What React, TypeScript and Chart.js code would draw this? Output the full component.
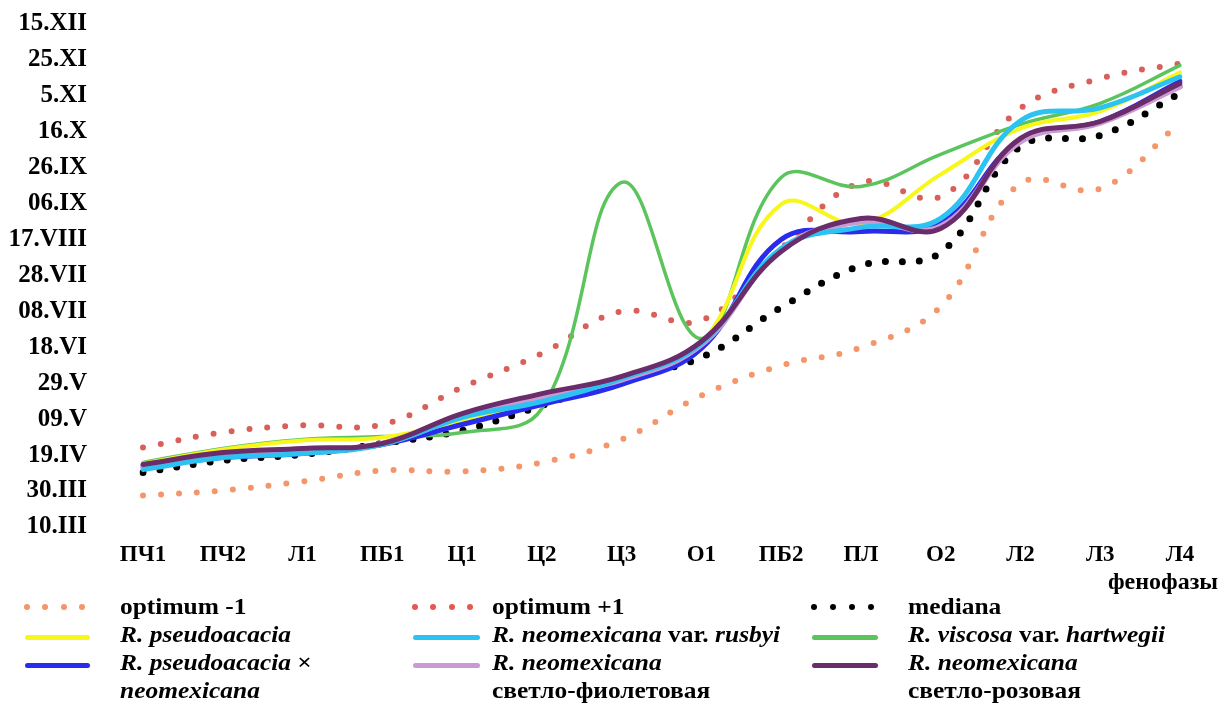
import React, { useEffect, useRef } from 'react';
import { Chart, registerables } from 'chart.js';
Chart.register(...registerables);

// Phenological phases (x categories)
const phases = ['ПЧ1', 'ПЧ2', 'Л1', 'ПБ1', 'Ц1', 'Ц2', 'Ц3', 'О1', 'ПБ2', 'ПЛ', 'О2', 'Л2', 'Л3', 'Л4'];
// Date tick labels, every 20 days starting at 10.III (value 0)
const dateTicks = ['10.III', '30.III', '19.IV', '09.V', '29.V', '18.VI', '08.VII', '28.VII', '17.VIII', '06.IX', '26.IX', '16.X', '5.XI', '25.XI', '15.XII'];

// Series values: days after 10.III
const optimumMinus1 = [17.5, 20.3, 25.3, 31.4, 30.9, 35.9, 48.7, 73.1, 89.8, 99.8, 122.6, 191.0, 188.2, 224.9];
const optimumPlus1 = [44.2, 52.6, 56.5, 57.0, 77.6, 96.5, 119.9, 114.9, 154.9, 191.6, 183.8, 232.8, 249.4, 257.8];
const mediana = [30.3, 37.0, 40.3, 46.4, 53.7, 67.6, 82.6, 94.3, 122.1, 145.4, 152.7, 211.6, 217.7, 241.1];
const pseudoacacia = [35.3, 43.1, 48.1, 49.8, 58.7, 68.7, 79.8, 102.1, 179.4, 168.8, 196.1, 221.7, 231.2, 252.9];
const rusbyi = [32.0, 38.6, 40.9, 45.9, 60.9, 69.8, 82.6, 102.1, 154.9, 166.6, 171.6, 225.9, 233.1, 250.4];
const hartwegii = [35.9, 43.7, 48.7, 50.3, 52.5, 65.9, 191.6, 104.8, 194.4, 189.4, 207.2, 223.9, 235.6, 256.7];
const hybrid = [33.0, 38.6, 40.9, 45.9, 57.0, 68.1, 79.3, 99.3, 159.9, 164.3, 168.8, 215.5, 225.5, 247.8];
const lightViolet = [34.2, 40.3, 42.0, 46.4, 61.5, 72.6, 82.0, 101.5, 154.3, 169.9, 167.1, 214.4, 224.9, 245.0];
const lightPink = [34.8, 41.4, 43.7, 46.4, 63.1, 74.2, 83.7, 103.2, 153.2, 171.6, 166.0, 216.1, 225.5, 246.7];

const C = {
  orange: '#F5956A',
  red: '#D9605A',
  black: '#000000',
  yellow: '#F7F71C',
  cyan: '#2CC2F2',
  green: '#5CC45C',
  blue: '#2B2BEE',
  lviolet: '#C99BD2',
  dpurple: '#6B2C6B',
};

const FONT = '"Liberation Serif", "Times New Roman", serif';

const xTitlePlugin = {
  id: 'xTitle',
  afterDraw(chart: any) {
    const ctx = chart.ctx;
    ctx.save();
    ctx.font = 'bold 24px ' + FONT;
    ctx.fillStyle = '#000';
    ctx.textAlign = 'center';
    ctx.textBaseline = 'middle';
    ctx.fillText('фенофазы', chart.chartArea.right - 17, 583);
    ctx.restore();
  },
};

function dotted(label: string, data: number[], color: string, width: number, gap: number) {
  return {
    label, data, borderColor: color, backgroundColor: color, borderWidth: width,
    borderDash: [0, gap], borderCapStyle: 'round', borderJoinStyle: 'round',
    pointRadius: 0, tension: 0.4, order: 10, fill: false,
  };
}
function solid(label: string, data: number[], color: string, width: number, order: number) {
  return {
    label, data, borderColor: color, backgroundColor: color, borderWidth: width,
    borderCapStyle: 'round', borderJoinStyle: 'round',
    pointRadius: 0, tension: 0.4, order, fill: false,
  };
}

type Entry = { kind: 'dots' | 'line' | 'none'; color?: string; text: React.ReactNode };
const legendCols: { markerX: number; markerW: number; dotGap: number; textX: number; entries: Entry[] }[] = [
  {
    markerX: 25, markerW: 65, dotGap: 18.3, textX: 120,
    entries: [
      { kind: 'dots', color: C.orange, text: <>optimum -1</> },
      { kind: 'line', color: C.yellow, text: <i>R. pseudoacacia</i> },
      { kind: 'line', color: C.blue, text: <><i>R. pseudoacacia</i> ×</> },
      { kind: 'none', text: <i>neomexicana</i> },
    ],
  },
  {
    markerX: 413, markerW: 67, dotGap: 18.3, textX: 492,
    entries: [
      { kind: 'dots', color: '#E8564F', text: <>optimum +1</> },
      { kind: 'line', color: C.cyan, text: <><i>R. neomexicana</i> var. <i>rusbyi</i></> },
      { kind: 'line', color: C.lviolet, text: <i>R. neomexicana</i> },
      { kind: 'none', text: <>светло-фиолетовая</> },
    ],
  },
  {
    markerX: 812, markerW: 66, dotGap: 19, textX: 908,
    entries: [
      { kind: 'dots', color: C.black, text: <>mediana</> },
      { kind: 'line', color: C.green, text: <><i>R. viscosa</i> var. <i>hartwegii</i></> },
      { kind: 'line', color: C.dpurple, text: <i>R. neomexicana</i> },
      { kind: 'none', text: <>светло-розовая</> },
    ],
  },
];
const rowY = [607, 635, 663, 691];

function Legend() {
  const items: React.ReactNode[] = [];
  legendCols.forEach((col, ci) => {
    col.entries.forEach((e, ri) => {
      const cy = rowY[ri];
      if (e.kind === 'line') {
        items.push(<div key={`m${ci}-${ri}`} style={{ position: 'absolute', left: col.markerX, top: cy + 2 - 2.5, width: col.markerW, height: 5, borderRadius: 3, background: e.color }} />);
      } else if (e.kind === 'dots') {
        for (let k = 0; k < 4; k++) {
          items.push(<div key={`d${ci}-${ri}-${k}`} style={{ position: 'absolute', left: col.markerX - 1 + k * col.dotGap, top: cy - 3, width: 6, height: 6, borderRadius: 3, background: e.color }} />);
        }
      }
      items.push(
        <div key={`t${ci}-${ri}`} style={{ position: 'absolute', left: col.textX, top: cy - 14, height: 28, lineHeight: '28px', whiteSpace: 'nowrap', font: 'bold 24px ' + FONT, color: '#000', transform: 'scaleX(1.06)', transformOrigin: 'left center' }}>
          {e.text}
        </div>
      );
    });
  });
  return <>{items}</>;
}

export default function App() {
  const ref = useRef<HTMLCanvasElement | null>(null);
  useEffect(() => {
    if (!ref.current) return;
    const chart = new Chart(ref.current, {
      type: 'line',
      data: {
        labels: phases,
        datasets: [
          dotted('optimum -1', optimumMinus1, C.orange, 6, 18) as any,
          dotted('optimum +1', optimumPlus1, C.red, 6, 18) as any,
          dotted('mediana', mediana, C.black, 7, 17) as any,
          solid('R. pseudoacacia', pseudoacacia, C.yellow, 4, 5) as any,
          solid('R. neomexicana var. rusbyi', rusbyi, C.cyan, 5, 2) as any,
          solid('R. viscosa var. hartwegii', hartwegii, C.green, 3.5, 6) as any,
          solid('R. pseudoacacia × neomexicana', hybrid, C.blue, 5, 4) as any,
          solid('R. neomexicana светло-фиолетовая', lightViolet, C.lviolet, 6, 3) as any,
          solid('R. neomexicana светло-розовая', lightPink, C.dpurple, 5, 1) as any,
        ],
      },
      options: {
        responsive: false,
        animation: false,
        layout: { padding: { left: 0, right: 44, top: 23.5, bottom: 0 } },
        plugins: { legend: { display: false }, tooltip: { enabled: false } },
        scales: {
          x: {
            type: 'category',
            offset: false,
            grid: { display: false },
            border: { display: false },
            ticks: { color: '#000', font: { family: FONT, size: 23, weight: 'bold' }, padding: 6.5, maxRotation: 0, autoSkip: false },
            afterFit: (s: any) => { s.height = 704 - 527; },
          },
          y: {
            type: 'linear',
            min: 0,
            max: 280,
            grid: { display: true, drawOnChartArea: false, drawTicks: true, tickLength: 56, color: 'rgba(0,0,0,0)' },
            border: { display: false },
            ticks: {
              stepSize: 20,
              color: '#000',
              font: { family: FONT, size: 25, weight: 'bold' },
              padding: 0,
              callback: (v: any) => dateTicks[Math.round(Number(v) / 20)] ?? '',
            },
            afterFit: (s: any) => { s.width = 143; },
          },
        },
      },
      plugins: [xTitlePlugin],
    });
    return () => chart.destroy();
  }, []);
  return (
    <div style={{ position: 'fixed', left: 0, top: 0, width: 1224, height: 704, background: '#fff' }}>
      <canvas ref={ref} width={1224} height={704} style={{ position: 'absolute', left: 0, top: 0, width: 1224, height: 704 }} />
      <Legend />
    </div>
  );
}
